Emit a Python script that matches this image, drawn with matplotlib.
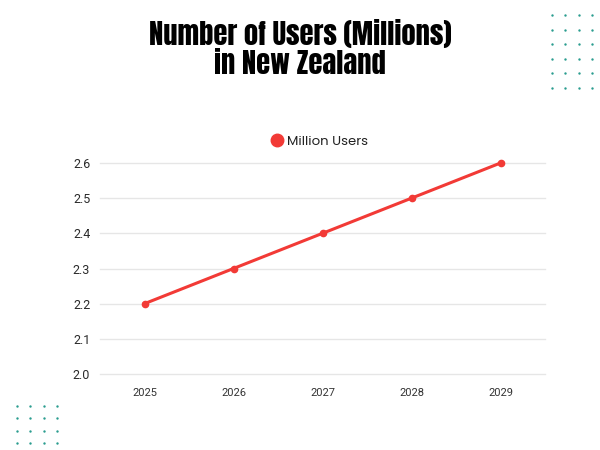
import numpy as np
import matplotlib.pyplot as plt

# datos
years = ['2025', '2026', '2027', '2028', '2029']
users = [2.2, 2.3, 2.4, 2.5, 2.6]
yticks = [2.0, 2.1, 2.2, 2.3, 2.4, 2.5, 2.6]

red = '#f23a36'
teal = '#2a9d8f'

fig = plt.figure(figsize=(6, 4.5), dpi=100)

# ejes del grafico (en pixeles: x 100..545, y 163..374)
ax = fig.add_axes([100/600, 1 - 374/450, 445/600, 211/450])
x = np.arange(len(years))
ax.plot(x, users, color=red, lw=2.2, marker='o', ms=4.5, label='Million Users',
        clip_on=False, zorder=3)
ax.set_xlim(-0.5, len(years) - 0.5)
ax.set_ylim(2.0, 2.6)
ax.set_xticks(x)
ax.set_xticklabels(years)
ax.set_yticks(yticks)
ax.set_yticklabels([f'{v:.1f}' for v in yticks])
ax.grid(axis='y', color='#e6e6e6', lw=1)
for gl in ax.get_ygridlines():
    gl.set_clip_on(False)
ax.set_axisbelow(True)
for s in ax.spines.values():
    s.set_visible(False)
ax.tick_params(axis='both', length=0)
ax.tick_params(axis='x', pad=10, labelsize=8, labelcolor='#333333')
ax.tick_params(axis='y', pad=7, labelsize=9, labelcolor='#2a2a2a')
for lab in ax.get_xticklabels() + ax.get_yticklabels():
    lab.set_family(['Roboto', 'DejaVu Sans'])

# leyenda
ax.legend(loc='lower center', bbox_to_anchor=(0.5, 1.015), frameon=False,
          handlelength=0, handletextpad=0.8, markerscale=2.0,
          prop={'family': ['Poppins', 'DejaVu Sans'], 'size': 9.5}, labelcolor='#222222')
leg = ax.get_legend()
for h in leg.legend_handles:
    h.set_linestyle('none')

# titulo
fig.text(0.5, 1 - 48/450, 'Number of Users (Millions)\nin New Zealand',
         ha='center', va='center', fontsize=20.5,
         family=['Anton', 'DejaVu Sans'], linespacing=1.05)

# puntos decorativos
deco = fig.add_axes([0, 0, 1, 1])
deco.set_xlim(0, 600)
deco.set_ylim(450, 0)
deco.axis('off')
gx, gy = np.meshgrid(np.linspace(552, 592, 4), np.linspace(15, 88, 6))
deco.scatter(gx.ravel(), gy.ravel(), s=3, color=teal, lw=0)
gx, gy = np.meshgrid(np.linspace(17, 57, 4), np.linspace(406, 443, 4))
deco.scatter(gx.ravel(), gy.ravel(), s=3, color=teal, lw=0)

fig.savefig('out.png', dpi=100)
